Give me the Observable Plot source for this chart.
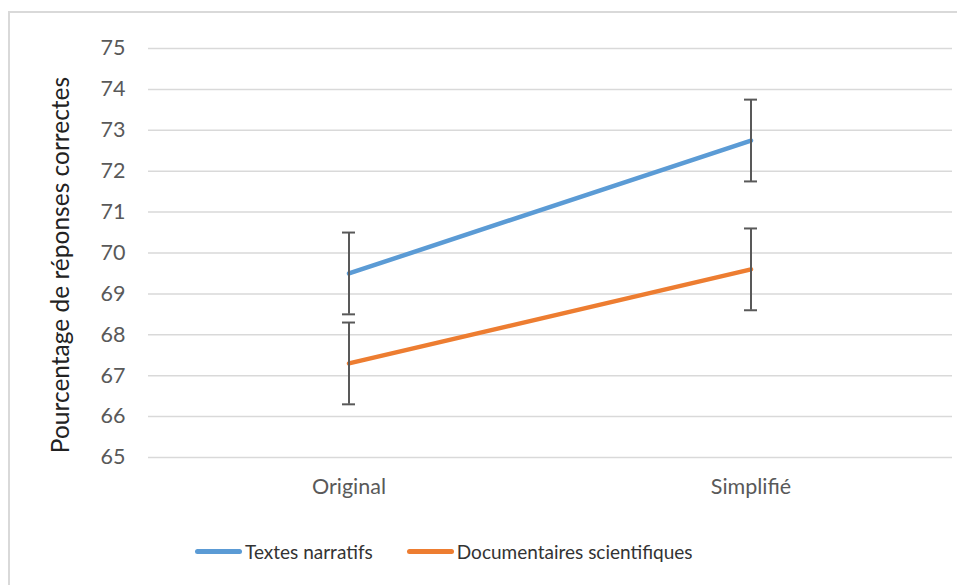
<!DOCTYPE html>
<html>
<head>
<meta charset="utf-8">
<script src="https://cdn.jsdelivr.net/npm/d3@7"></script>
<script src="https://cdn.jsdelivr.net/npm/@observablehq/plot@0.6"></script>
<style>
  html, body { margin: 0; padding: 0; background: #fff; }
  body { position: relative; width: 957px; height: 585px; overflow: hidden; font-family: Lato, "Open Sans", sans-serif; }
  #frame { position: absolute; left: 8px; top: 11px; width: 980px; height: 600px; border-left: 2px solid #d9d9d9; border-top: 2px solid #d9d9d9; box-sizing: border-box; }
  #chart { position: absolute; left: 0; top: 0; }
  #legend { position: absolute; left: 195px; top: 538px; height: 26px; display: flex; align-items: center; font-size: 19px; color: #333; }
  .item { display: flex; align-items: center; }
  .swatch { width: 47px; height: 5px; border-radius: 3px; margin-right: 3px; }
</style>
</head>
<body>
<div id="frame"></div>
<div id="chart"></div>
<div id="legend"></div>
<script>
const categories = ["Original", "Simplifié"];
const seriesNames = ["Textes narratifs", "Documentaires scientifiques"];
const narratifs = [69.5, 72.75];
const documentaires = [67.3, 69.6];
const errNarratifs = [1, 1];
const errDocumentaires = [1, 1];
const yTicks = [65, 66, 67, 68, 69, 70, 71, 72, 73, 74, 75];
const colors = ["#5B9BD5", "#ED7D31"];
const yTitle = "Pourcentage de réponses correctes";

const rows = [];
categories.forEach((c, i) => {
  rows.push({cat: c, series: seriesNames[0], value: narratifs[i], err: errNarratifs[i]});
  rows.push({cat: c, series: seriesNames[1], value: documentaires[i], err: errDocumentaires[i]});
});

const chart = Plot.plot({
  width: 957,
  height: 520,
  marginTop: 48,
  marginBottom: 63,
  marginLeft: 148,
  marginRight: 5,
  style: {fontFamily: "Lato, 'Open Sans', sans-serif", fontSize: "21px", color: "#595959", background: "transparent"},
  x: {type: "band", domain: categories, paddingInner: 0.9676, paddingOuter: 0.4838},
  y: {domain: [65, 75]},
  color: {domain: seriesNames, range: colors},
  marks: [
    Plot.ruleY(yTicks, {stroke: "#d9d9d9", strokeWidth: 1.5}),
    Plot.axisY({ticks: yTicks, tickSize: 0, tickPadding: 23, label: null, fontSize: 21.5, fill: "#595959"}),
    Plot.axisX({tickSize: 0, tickPadding: 21, label: null, fontSize: 21.5, fill: "#595959"}),
    Plot.line(rows, {x: "cat", y: "value", z: "series", stroke: "series", strokeWidth: 4.5, strokeLinecap: "round"}),
    Plot.ruleX(rows, {x: "cat", y1: d => d.value - d.err, y2: d => d.value + d.err, stroke: "#595959", strokeWidth: 2}),
    Plot.tickY(rows, {x: "cat", y: d => d.value - d.err, stroke: "#595959", strokeWidth: 2}),
    Plot.tickY(rows, {x: "cat", y: d => d.value + d.err, stroke: "#595959", strokeWidth: 2}),
    Plot.text([yTitle], {frameAnchor: "left", textAnchor: "middle", rotate: -90, dx: -87, dy: 12, fontSize: 24.5, fill: "#222"})
  ]
});
document.getElementById("chart").appendChild(chart);

const legend = document.getElementById("legend");
seriesNames.forEach((name, i) => {
  const item = document.createElement("div");
  item.className = "item";
  if (i > 0) item.style.marginLeft = "34px";
  const sw = document.createElement("div");
  sw.className = "swatch";
  sw.style.background = colors[i];
  const label = document.createElement("span");
  label.textContent = name;
  item.appendChild(sw);
  item.appendChild(label);
  legend.appendChild(item);
});
</script>
</body>
</html>
